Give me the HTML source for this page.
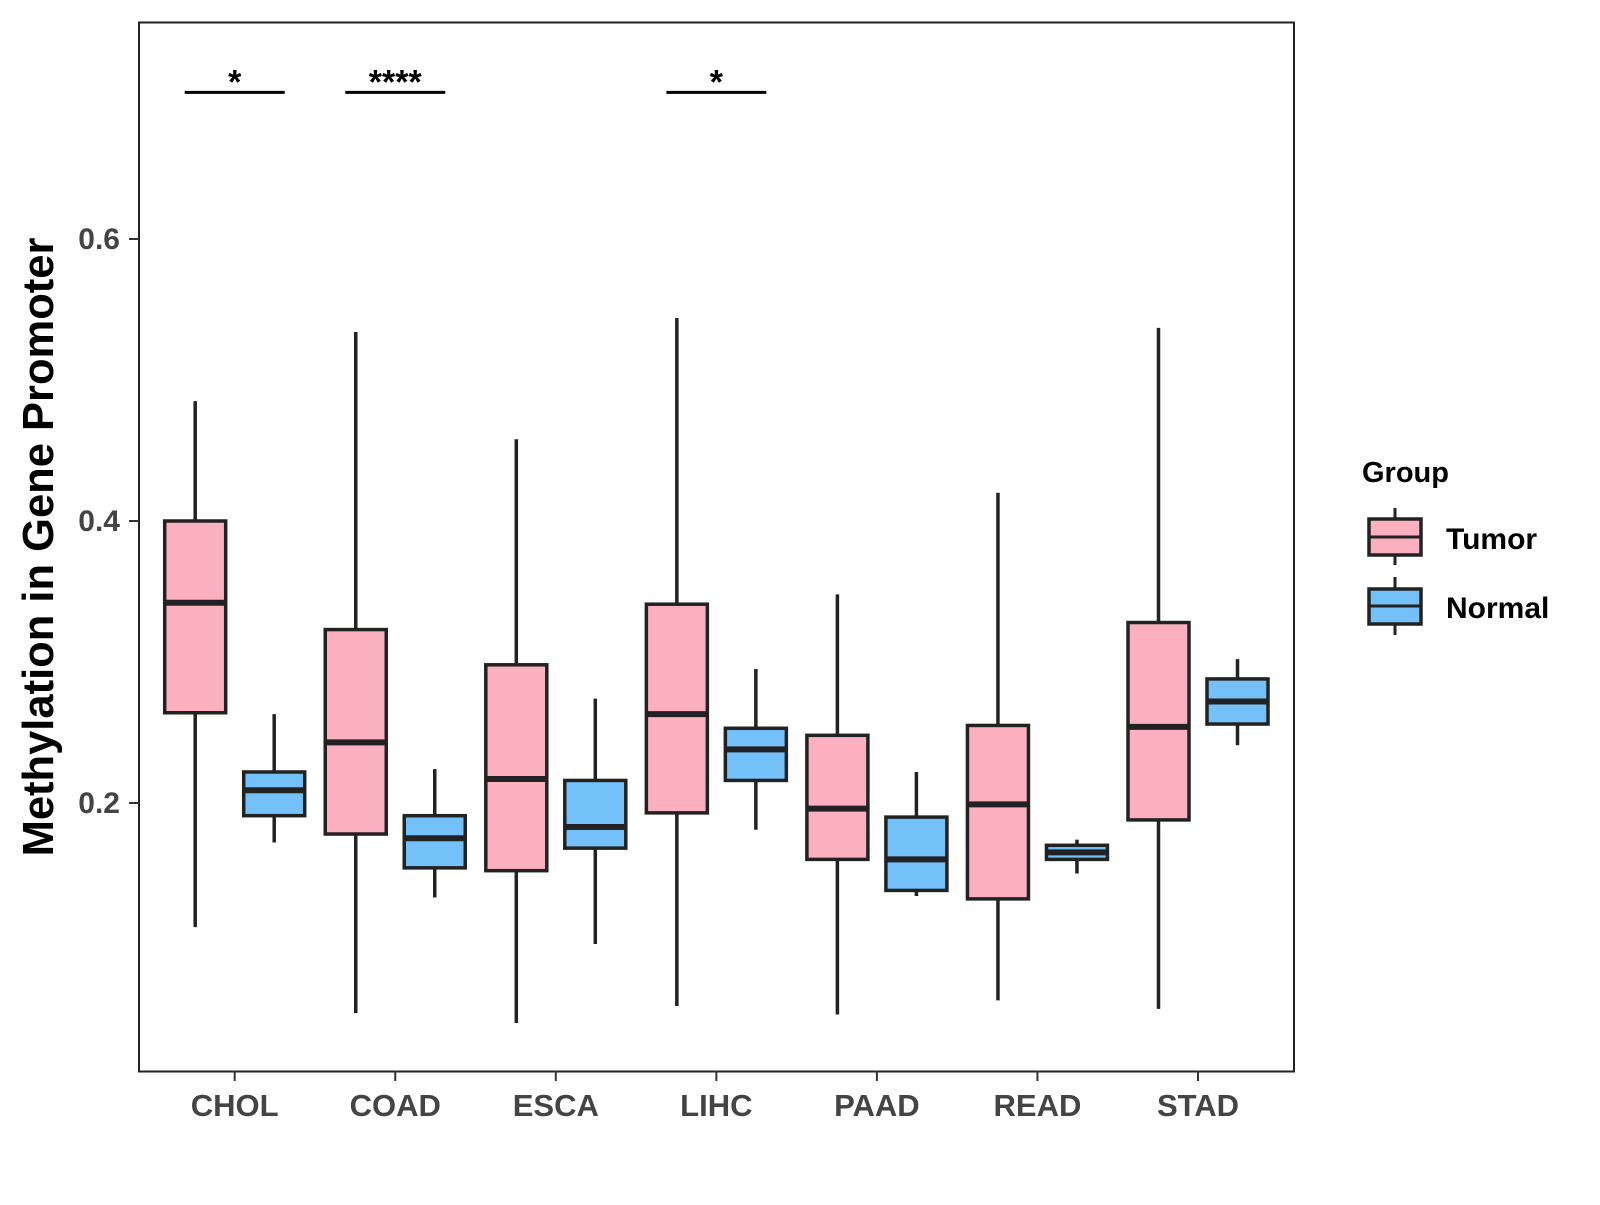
<!DOCTYPE html>
<html><head><meta charset="utf-8"><style>
body{margin:0;background:#fff;}
svg text{font-family:"Liberation Sans",Arial,sans-serif;font-weight:bold;}
</style></head><body>
<svg id="chart" width="1600" height="1200" viewBox="0 0 1600 1200" xmlns="http://www.w3.org/2000/svg">
<rect x="139" y="22.5" width="1155" height="1049" fill="#fff" stroke="#222" stroke-width="2"/>
<g id="marks"></g>
<text transform="translate(53,547) rotate(-90)" text-anchor="middle" font-size="43.5" fill="#000">Methylation in Gene Promoter</text>
<text x="1362" y="482" font-size="29" fill="#000">Group</text>
<g>
<line x1="1395" y1="508" x2="1395" y2="565" stroke="#222" stroke-width="3"/>
<rect x="1369" y="519" width="52" height="36" fill="#FBB0C0" stroke="#222" stroke-width="3.5"/>
<line x1="1369" y1="537" x2="1421" y2="537" stroke="#222" stroke-width="3"/>
<text x="1446" y="549" font-size="30" fill="#000">Tumor</text>
</g>
<g>
<line x1="1395" y1="577" x2="1395" y2="635" stroke="#222" stroke-width="3"/>
<rect x="1369" y="589" width="52" height="35" fill="#74C0F8" stroke="#222" stroke-width="3.5"/>
<line x1="1369" y1="606" x2="1421" y2="606" stroke="#222" stroke-width="3"/>
<text x="1446" y="618" font-size="30" fill="#000">Normal</text>
</g>
</svg>
<script>
const categories=["CHOL","COAD","ESCA","LIHC","PAAD","READ","STAD"];
const tumorMin=[0.112,0.051,0.044,0.056,0.050,0.060,0.054];
const tumorQ1=[0.264,0.178,0.152,0.193,0.160,0.132,0.188];
const tumorMed=[0.342,0.243,0.217,0.263,0.196,0.199,0.254];
const tumorQ3=[0.400,0.323,0.298,0.341,0.248,0.255,0.328];
const tumorMax=[0.485,0.534,0.458,0.544,0.348,0.420,0.537];
const normalMin=[0.172,0.133,0.100,0.181,0.134,0.150,0.241];
const normalQ1=[0.191,0.154,0.168,0.216,0.138,0.160,0.256];
const normalMed=[0.209,0.175,0.183,0.238,0.160,0.165,0.272];
const normalQ3=[0.222,0.191,0.216,0.253,0.190,0.170,0.288];
const normalMax=[0.263,0.224,0.274,0.295,0.222,0.174,0.302];
const yTicks=[0.2,0.4,0.6];
const sigCats=["CHOL","COAD","LIHC"];
const sigLabels=["*","****","*"];
const sigLevel=0.704;

const NS="http://www.w3.org/2000/svg";
const g=document.getElementById('marks');
function y(v){return 803-(v-0.2)*1410;}
function x(i){return 234.7+i*160.55;}
function el(tag,attrs,parent){const e=document.createElementNS(NS,tag);for(const k in attrs)e.setAttribute(k,attrs[k]);(parent||g).appendChild(e);return e;}
const bw=61;
function box(cx,mn,q1,md,q3,mx,fill,name){
  const grp=el('g',{});
  
  
  el('line',{x1:cx,x2:cx,y1:y(mx),y2:y(mn),stroke:'#222','stroke-width':3.5},grp);
  el('rect',{x:cx-bw/2,y:y(q3),width:bw,height:y(q1)-y(q3),fill:fill,stroke:'#222','stroke-width':3.5},grp);
  el('line',{x1:cx-bw/2,x2:cx+bw/2,y1:y(md),y2:y(md),stroke:'#222','stroke-width':6},grp);
}
categories.forEach((c,i)=>{
  box(x(i)-39.5,tumorMin[i],tumorQ1[i],tumorMed[i],tumorQ3[i],tumorMax[i],'#FBB0C0','box-tumor-'+c.toLowerCase());
  box(x(i)+39.5,normalMin[i],normalQ1[i],normalMed[i],normalQ3[i],normalMax[i],'#74C0F8','box-normal-'+c.toLowerCase());
  const t=el('line',{x1:x(i),x2:x(i),y1:1071,y2:1081,stroke:'#333','stroke-width':2});
  
  
  const lb=el('text',{x:x(i),y:1116,'text-anchor':'middle','font-size':31,fill:'#444'});
  lb.textContent=c;
  
  
});
yTicks.forEach(v=>{
  const t=el('line',{x1:129,x2:139,y1:y(v),y2:y(v),stroke:'#333','stroke-width':2});
  
  
  const lb=el('text',{x:120,y:y(v)+10,'text-anchor':'end','font-size':30,fill:'#444'});
  lb.textContent=v.toFixed(1);
  
  
});
sigCats.forEach((c,k)=>{
  const i=categories.indexOf(c);
  const ln=el('line',{x1:x(i)-50,x2:x(i)+50,y1:y(sigLevel),y2:y(sigLevel),stroke:'#000','stroke-width':3});
  
  
  const tx=el('text',{x:x(i),y:y(sigLevel)+1,'text-anchor':'middle','font-size':34,fill:'#000'});
  tx.textContent=sigLabels[k];
  
  
});
</script>
</body></html>
